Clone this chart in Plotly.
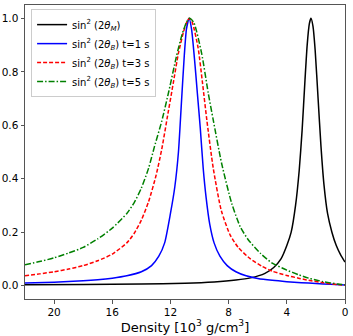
import plotly.graph_objects as go

# values (density in 10^3 g/cm^3)
black_d = [22, 18, 14, 11, 9, 7.5, 6.5, 5.5, 4.9, 4.4, 4.0, 3.7, 3.4, 3.15, 2.95, 2.75, 2.6, 2.45, 2.34,
           2.2, 2.05, 1.85, 1.65, 1.45, 1.2, 0.9, 0.6, 0.3, 0.0]
black_v = [0.003, 0.004, 0.006, 0.009, 0.014, 0.021, 0.029, 0.046, 0.068, 0.1, 0.15, 0.2, 0.3, 0.43, 0.58,
           0.77, 0.9, 0.98, 1.0, 0.97, 0.88, 0.7, 0.52, 0.38, 0.27, 0.2, 0.15, 0.115, 0.088]

blue_d = [22, 20, 18, 17, 16, 15, 14, 13.3, 12.8, 12.4, 12.0, 11.7, 11.45, 11.25, 11.05, 10.9, 10.72,
          10.55, 10.35, 10.15, 9.95, 9.75, 9.55, 9.3, 9.0, 8.6, 8.1, 7.5, 6.8, 6, 5, 4, 3, 2, 1, 0]
blue_v = [0.010, 0.013, 0.018, 0.022, 0.028, 0.037, 0.052, 0.075, 0.11, 0.16, 0.27, 0.37, 0.5, 0.68, 0.86,
          0.96, 1.0, 0.96, 0.85, 0.72, 0.59, 0.44, 0.33, 0.23, 0.16, 0.11, 0.075, 0.052, 0.037, 0.027,
          0.02, 0.015, 0.011, 0.008, 0.005, 0.002]

red_d = [22, 21, 20, 19, 18, 17, 16, 15, 14.5, 14, 13.5, 13, 12.6, 12.2, 11.8, 11.45, 11.1, 10.85, 10.7,
         10.5, 10.1, 9.8, 9.5, 9.06, 8.5, 7.9, 7.33, 6.5, 5.7, 5, 4, 3.2, 2.5, 1.5, 0.5, 0]
red_v = [0.037, 0.044, 0.052, 0.062, 0.075, 0.093, 0.118, 0.16, 0.195, 0.245, 0.315, 0.41, 0.51, 0.635,
         0.76, 0.87, 0.95, 0.99, 1.0, 0.985, 0.89, 0.76, 0.62, 0.44, 0.28, 0.19, 0.142, 0.1, 0.072, 0.054,
         0.038, 0.028, 0.02, 0.011, 0.004, 0.002]

green_d = [22, 21, 20, 19, 18, 17, 16, 15, 14.5, 14, 13.5, 13.1, 12.6, 12.1, 11.6, 11.2, 10.9, 10.7, 10.4,
           9.86, 9.4, 9.06, 8.48, 7.79, 7.2, 6.64, 5.8, 5.03, 4, 3.2, 2.5, 1.5, 0.5, 0]
green_v = [0.078, 0.09, 0.104, 0.122, 0.143, 0.175, 0.215, 0.27, 0.31, 0.365, 0.44, 0.52, 0.615, 0.73,
           0.855, 0.94, 0.985, 1.0, 0.985, 0.87, 0.72, 0.62, 0.457, 0.308, 0.22, 0.171, 0.12, 0.085, 0.058,
           0.041, 0.028, 0.015, 0.006, 0.003]

x_ticks = [20, 16, 12, 8, 4, 0]
y_ticks = [0.0, 0.2, 0.4, 0.6, 0.8, 1.0]

series = [
    (black_d, black_v, "sin<sup>2</sup> (2<i>θ</i><sub><i>M</i></sub>)", "#000000", "solid"),
    (blue_d, blue_v, "sin<sup>2</sup> (2<i>θ</i><sub><i>B</i></sub>) t=1 s", "#0000ff", "solid"),
    (red_d, red_v, "sin<sup>2</sup> (2<i>θ</i><sub><i>B</i></sub>) t=3 s", "#ff0000", "4px,2px"),
    (green_d, green_v, "sin<sup>2</sup> (2<i>θ</i><sub><i>B</i></sub>) t=5 s", "#008000", "6px,2px,1.5px,2px"),
]

fig = go.Figure()
for d, v, name, color, dash in series:
    fig.add_trace(go.Scatter(
        x=d, y=v, name=name, mode="lines",
        line=dict(color=color, width=1.5, dash=dash, shape="spline", smoothing=0.6),
    ))

axis_common = dict(
    showline=True, linecolor="#555555", linewidth=1, mirror=True,
    ticks="outside", ticklen=3.5, tickcolor="#555555",
    showgrid=False, zeroline=False, automargin=False,
    tickfont=dict(family="DejaVu Sans", size=10.5, color="#000000"),
)

fig.update_layout(
    width=353, height=336,
    margin=dict(l=25, r=8, t=5, b=37),
    paper_bgcolor="white", plot_bgcolor="white",
    font=dict(family="DejaVu Sans", color="#000000"),
    xaxis=dict(
        range=[22, 0], tickvals=x_ticks, ticktext=[str(t) for t in x_ticks],
        title=dict(text="Density [10<sup>3</sup> g/cm<sup>3</sup>]", font=dict(size=13), standoff=2),
        **axis_common,
    ),
    yaxis=dict(
        range=[-0.05, 1.05], tickvals=y_ticks, ticktext=[f"{t:.1f}" for t in y_ticks],
        **axis_common,
    ),
    legend=dict(
        x=0.019, y=0.986, xanchor="left", yanchor="top",
        bgcolor="rgba(255,255,255,0.8)", bordercolor="#cccccc", borderwidth=1,
        font=dict(size=10), tracegroupgap=0, itemwidth=30,
    ),
    showlegend=True,
)

# drop the default 8px page margin so the figure sits at the window's corner
fig.write_html(
    "out.html",
    config={"displayModeBar": False},
    post_script="document.body.style.margin='0';",
)
